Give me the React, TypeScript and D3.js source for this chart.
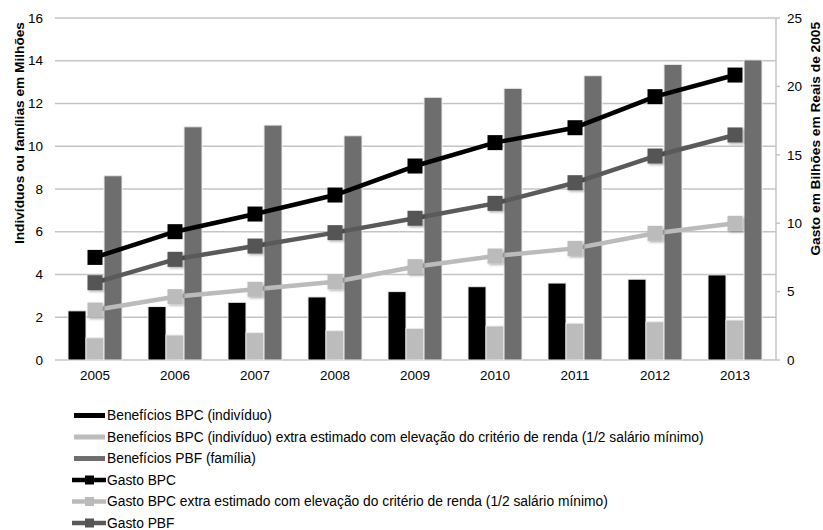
import React from 'react';
import * as d3 from 'd3';

const years = ['2005', '2006', '2007', '2008', '2009', '2010', '2011', '2012', '2013'];
const beneficiosBPC = [2.3, 2.5, 2.7, 2.95, 3.2, 3.43, 3.6, 3.78, 3.98];
const beneficiosExtra = [1.04, 1.17, 1.28, 1.37, 1.48, 1.59, 1.72, 1.79, 1.87];
const beneficiosPBF = [8.62, 10.91, 10.99, 10.49, 12.29, 12.71, 13.3, 13.83, 14.04];
const gastoBPC = [7.5, 9.38, 10.67, 12.06, 14.18, 15.89, 16.98, 19.25, 20.83];
const gastoExtra = [3.65, 4.63, 5.17, 5.72, 6.82, 7.6, 8.16, 9.26, 9.99];
const gastoPBF = [5.65, 7.36, 8.33, 9.31, 10.36, 11.45, 12.96, 14.91, 16.45];
const leftTicks = [0, 2, 4, 6, 8, 10, 12, 14, 16];
const rightTicks = [0, 5, 10, 15, 20, 25];

const barSeries = [
  { name: 'Benefícios BPC (indivíduo)', values: beneficiosBPC, color: '#000000' },
  { name: 'Benefícios BPC (indivíduo) extra estimado com elevação do critério de renda (1/2 salário mínimo)', values: beneficiosExtra, color: '#bcbcbc' },
  { name: 'Benefícios PBF (família)', values: beneficiosPBF, color: '#6e6e6e' },
];
const lineSeries = [
  { name: 'Gasto BPC', values: gastoBPC, color: '#000000', marker: '#000000' },
  { name: 'Gasto BPC extra estimado com elevação do critério de renda (1/2 salário mínimo)', values: gastoExtra, color: '#bbbbbb', marker: '#bbbbbb' },
  { name: 'Gasto PBF', values: gastoPBF, color: '#5a5a5a', marker: '#555555' },
];

const FONT = '"Liberation Sans", Arial, sans-serif';

export default function App() {
  const W = 823, H = 530;
  const left = 55, right = 775, top = 18, bottom = 360;
  const x = d3.scaleBand<string>().domain(years).range([left, right]).padding(0);
  const inner = d3.scaleBand<number>().domain([0, 1, 2]).range([0, 54]).padding(0);
  const off = (x.bandwidth() - 54) / 2;
  const yL = d3.scaleLinear().domain([0, 16]).range([bottom, top]);
  const yR = d3.scaleLinear().domain([0, 25]).range([bottom, top]);
  const cx = (y: string) => (x(y) as number) + x.bandwidth() / 2;
  const lineGen = (vals: number[]) =>
    d3.line<number>().x((_, i) => cx(years[i])).y((v) => yR(v))(vals) as string;
  const ms = 15;
  const legendY = [415.5, 437, 458.5, 480, 501.5, 523];

  return (
    <svg width={W} height={H} style={{ position: 'absolute', left: 0, top: 0, background: '#fff' }} fontFamily={FONT}>
      <defs>
        <filter id="sh" x="-30%" y="-30%" width="160%" height="160%">
          <feDropShadow dx="1.5" dy="1.5" stdDeviation="1.2" floodColor="#000" floodOpacity="0.3" />
        </filter>
      </defs>
      {leftTicks.map((t) => (
        <g key={'g' + t}>
          <line x1={left} x2={right + 1} y1={yL(t)} y2={yL(t)} stroke="#c4c4c4" strokeWidth={1.5} />
          <text x={43} y={yL(t)} dy="0.35em" textAnchor="end" fontSize={13.5} fill="#000">{t}</text>
        </g>
      ))}
      <line x1={right + 1} x2={right + 1} y1={top} y2={bottom} stroke="#c4c4c4" strokeWidth={1.5} />
      {rightTicks.map((t) => (
        <g key={'r' + t}>
          <line x1={right + 1} x2={right + 5} y1={yR(t)} y2={yR(t)} stroke="#c4c4c4" strokeWidth={1.5} />
          <text x={787} y={yR(t)} dy="0.35em" textAnchor="start" fontSize={13.5} fill="#000">{t}</text>
        </g>
      ))}
      {years.map((yr) => (
        <text key={'x' + yr} x={cx(yr)} y={380} textAnchor="middle" fontSize={13.5} fill="#000">{yr}</text>
      ))}
      <text transform="translate(24,22) rotate(-90)" textAnchor="end" fontSize={13.7} fontWeight="bold" fill="#000">
        Indivíduos ou famílias em Milhões
      </text>
      <text transform="translate(820,22) rotate(-90)" textAnchor="end" fontSize={13.7} fontWeight="bold" fill="#000">
        Gasto em Bilhões em Reais de 2005
      </text>
      {barSeries.map((s, si) =>
        s.values.map((v, i) => (
          <rect
            key={'b' + si + '-' + i}
            x={(x(years[i]) as number) + off + (inner(si) as number)}
            y={yL(v)}
            width={inner.bandwidth()}
            height={bottom - yL(v)}
            fill={s.color}
            stroke="#ececec"
            strokeWidth={1}
          />
        ))
      )}
      {lineSeries.map((s, si) => (
        <g key={'l' + si}>
          <path d={lineGen(s.values)} fill="none" stroke={s.color} strokeWidth={4.5} strokeLinejoin="round" />
          {s.values.map((v, i) => (
            <rect
              key={'m' + i}
              x={cx(years[i]) - ms / 2}
              y={yR(v) - ms / 2}
              width={ms}
              height={ms}
              fill={s.marker}
              filter={si === 0 ? undefined : 'url(#sh)'}
            />
          ))}
        </g>
      ))}
      {barSeries.map((s, i) => (
        <g key={'lb' + i}>
          <rect x={74} y={legendY[i] - 2.5} width={31} height={5} fill={s.color} />
          <text x={107} y={legendY[i]} dy="0.35em" fontSize={13.8} fill="#000">{s.name}</text>
        </g>
      ))}
      {lineSeries.map((s, i) => (
        <g key={'ll' + i}>
          <line x1={72} x2={106} y1={legendY[i + 3]} y2={legendY[i + 3]} stroke={s.color} strokeWidth={4.5} />
          <rect x={85} y={legendY[i + 3] - 4.5} width={9} height={9} fill={s.marker} />
          <text x={107} y={legendY[i + 3]} dy="0.35em" fontSize={13.8} fill="#000">{s.name}</text>
        </g>
      ))}
    </svg>
  );
}
